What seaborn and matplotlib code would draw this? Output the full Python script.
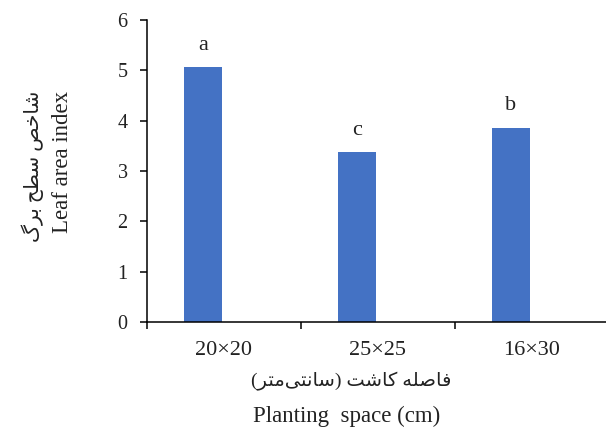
import matplotlib
matplotlib.use("Agg")
import matplotlib.pyplot as plt
import pandas as pd
import seaborn as sns

# Leaf area index by planting space
spacing = ["20×20", "25×25", "16×30"]
lai = [5.06, 3.37, 3.86]
letters = ["a", "c", "b"]
series = ["LAI", "LAI", "LAI"]
series_slots = ["LAI", "spare"]

ylabel_fa = "شاخص سطح برگ"
ylabel_en = "Leaf area index"
xlabel_fa = "فاصله کاشت (سانتی\u200cمتر)"
xlabel_en = "Planting  space (cm)"

# Arabic-script contextual forms: isolated, final, initial, medial
FORMS = {
    "ا": ("\uFE8D", "\uFE8E", None, None),
    "ر": ("\uFEAD", "\uFEAE", None, None),
    "ب": ("\uFE8F", "\uFE90", "\uFE91", "\uFE92"),
    "ت": ("\uFE95", "\uFE96", "\uFE97", "\uFE98"),
    "ح": ("\uFEA1", "\uFEA2", "\uFEA3", "\uFEA4"),
    "خ": ("\uFEA5", "\uFEA6", "\uFEA7", "\uFEA8"),
    "س": ("\uFEB1", "\uFEB2", "\uFEB3", "\uFEB4"),
    "ش": ("\uFEB5", "\uFEB6", "\uFEB7", "\uFEB8"),
    "ص": ("\uFEB9", "\uFEBA", "\uFEBB", "\uFEBC"),
    "ط": ("\uFEC1", "\uFEC2", "\uFEC3", "\uFEC4"),
    "ف": ("\uFED1", "\uFED2", "\uFED3", "\uFED4"),
    "ل": ("\uFEDD", "\uFEDE", "\uFEDF", "\uFEE0"),
    "م": ("\uFEE1", "\uFEE2", "\uFEE3", "\uFEE4"),
    "ن": ("\uFEE5", "\uFEE6", "\uFEE7", "\uFEE8"),
    "ه": ("\uFEE9", "\uFEEA", "\uFEEB", "\uFEEC"),
    "ک": ("\uFB8E", "\uFB8F", "\uFB90", "\uFB91"),
    "گ": ("\uFB92", "\uFB93", "\uFB94", "\uFB95"),
    "ی": ("\uFBFC", "\uFBFD", "\uFBFE", "\uFBFF"),
}
MIRROR = {"(": ")", ")": "("}


def shape_rtl(text):
    """Pick joined letter forms and return the string in visual order."""
    out = []
    n = len(text)
    for i, ch in enumerate(text):
        if ch not in FORMS:
            if ch != "\u200c":
                out.append(MIRROR.get(ch, ch))
            continue
        iso, fin, ini, med = FORMS[ch]
        prev = text[i - 1] if i > 0 else ""
        nxt = text[i + 1] if i + 1 < n else ""
        join_prev = prev in FORMS and FORMS[prev][2] is not None
        join_next = ini is not None and nxt in FORMS
        if join_prev and join_next:
            out.append(med)
        elif join_prev:
            out.append(fin)
        elif join_next:
            out.append(ini)
        else:
            out.append(iso)
    return "".join(reversed(out))


df = pd.DataFrame({"spacing": spacing, "lai": lai, "series": series})

sns.set_style("ticks")
plt.rcParams["font.family"] = ["Liberation Serif", "DejaVu Sans"]
plt.rcParams["axes.edgecolor"] = "black"
plt.rcParams["axes.linewidth"] = 1.1

W, H = 606, 429
fig = plt.figure(figsize=(W / 100, H / 100), dpi=100)
ax = fig.add_axes([147 / W, 107 / H, 462 / W, 302 / H])

# Clustered layout with an unused second slot, so each bar sits left of centre
sns.barplot(data=df, x="spacing", y="lai", hue="series", hue_order=series_slots,
            order=spacing, palette={"LAI": "#4472C4", "spare": "#ED7D31"},
            saturation=1, width=0.545, gap=0.1, dodge=True, legend=False,
            linewidth=0, ax=ax)

ax.set_xlim(-0.5, 2.5)
ax.set_ylim(0, 6)
ax.set_yticks(range(0, 7))
ax.set_xlabel("")
ax.set_ylabel("")
sns.despine(ax=ax)

ax.tick_params(axis="y", length=5, width=1.1, color="black", pad=9,
               labelsize=14.5, labelcolor="#222222")
ax.tick_params(axis="x", which="major", length=0, pad=14,
               labelsize=16, labelcolor="#222222")
ax.set_xticks([-0.5, 0.5, 1.5, 2.5], minor=True)
ax.tick_params(axis="x", which="minor", length=5, width=1.1, color="black",
               direction="out")

bars = [p for p in ax.patches if p.get_height() > 0]
bars.sort(key=lambda p: p.get_x())
for bar, val, lab in zip(bars, lai, letters):
    ax.annotate(lab, (bar.get_x() + bar.get_width() / 2, val), xytext=(0, 16),
                textcoords="offset points", ha="center", va="center",
                fontsize=16, color="#222222")

fig.text(33 / W, 1 - 166 / H, shape_rtl(ylabel_fa), rotation=90,
         ha="center", va="center", fontsize=14.5, color="#222222")
fig.text(63 / W, 1 - 162 / H, ylabel_en, rotation=90,
         ha="center", va="center", fontsize=16.5, color="#222222")
fig.text(351 / W, 1 - 381 / H, shape_rtl(xlabel_fa),
         ha="center", va="center", fontsize=14, color="#222222")
fig.text(347 / W, 1 - 416 / H, xlabel_en,
         ha="center", va="center", fontsize=16.5, color="#222222")

fig.savefig("out.png", dpi=100)
